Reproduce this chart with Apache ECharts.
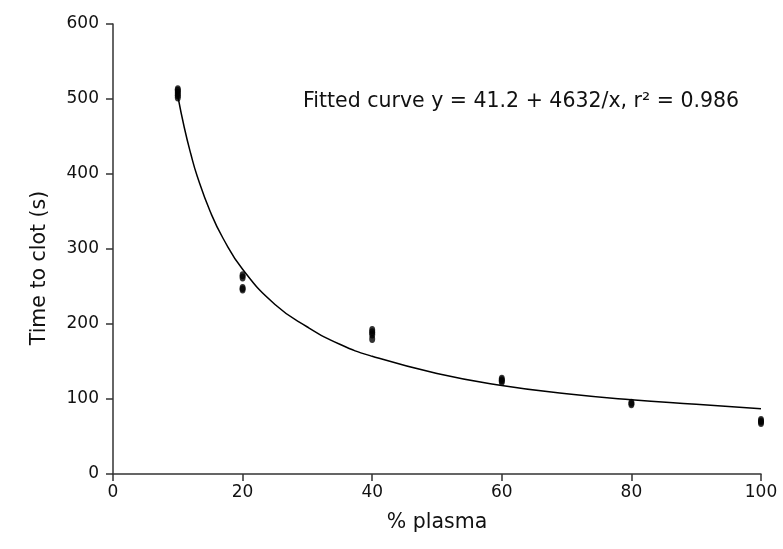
<!DOCTYPE html>
<html>
<head>
<meta charset="utf-8">
<script src="https://cdn.jsdelivr.net/npm/echarts@6/dist/echarts.min.js"></script>
<style>
  html, body { margin: 0; padding: 0; background: #fff; }
  #chart { width: 783px; height: 549px; }
</style>
</head>
<body>
<div id="chart"></div>
<script>
// measured points: [ % plasma, time to clot ]
var obs10 = [[10, 502], [10, 505], [10, 508], [10, 511], [10, 513]];
var obs20 = [[20, 265], [20, 262], [20, 248], [20, 246]];
var obs40 = [[40, 192], [40, 189], [40, 186], [40, 180]];
var obs60 = [[60, 127], [60, 125], [60, 123]];
var obs80 = [[80, 95], [80, 93]];
var obs100 = [[100, 72], [100, 70], [100, 68]];

// fitted curve
var curveX = [10, 11, 12, 13, 15, 17, 20, 25, 30, 35, 40, 50, 60, 70, 80, 90, 100];
var curveY = [504, 462, 427, 397, 350, 314, 273, 226, 196, 173, 157, 134, 118, 107, 99, 93, 87];

var xTicks = [0, 20, 40, 60, 80, 100];
var yTicks = [0, 100, 200, 300, 400, 500, 600];

var points = [].concat(obs10, obs20, obs40, obs60, obs80, obs100);
var curve = curveX.map(function (x, i) { return [x, curveY[i]]; });

var chart = echarts.init(document.getElementById('chart'));
var font = 'DejaVu Sans, sans-serif';

var option = {
    backgroundColor: '#fff',
    animation: false,
    title: {
        text: 'Fitted curve y = 41.2 + 4632/x, r² = 0.986',
        left: 298,
        top: 86,
        textStyle: {
            fontFamily: font,
            fontSize: 20.5,
            fontWeight: 'normal',
            color: '#111'
        }
    },
    graphic: [
        {
            type: 'text',
            rotation: Math.PI / 2,
            x: 40,
            y: 268,
            style: {
                text: 'Time to clot (s)',
                fontFamily: font,
                fontSize: 20.5,
                fill: '#111',
                align: 'center',
                verticalAlign: 'middle'
            }
        }
    ],
    grid: {
        left: 113,
        right: 22,
        top: 24,
        bottom: 75
    },
    xAxis: {
        type: 'value',
        min: 0,
        max: 100,
        interval: 20,
        name: '% plasma',
        nameLocation: 'middle',
        nameGap: 38,
        nameTextStyle: { fontFamily: font, fontSize: 20.5, color: '#111' },
        splitLine: { show: false },
        axisLine: { show: true, onZero: false, lineStyle: { color: '#333', width: 1.5 } },
        axisTick: { show: true, length: 7, lineStyle: { color: '#333', width: 1.5 } },
        axisLabel: {
            fontFamily: font,
            fontSize: 17,
            color: '#111',
            margin: 10,
            formatter: function (v) { return xTicks.indexOf(v) >= 0 ? v : ''; }
        }
    },
    yAxis: {
        type: 'value',
        min: 0,
        max: 600,
        interval: 100,
        splitLine: { show: false },
        axisLine: { show: true, lineStyle: { color: '#333', width: 1.5 } },
        axisTick: { show: true, length: 7, lineStyle: { color: '#333', width: 1.5 } },
        axisLabel: {
            fontFamily: font,
            fontSize: 17,
            color: '#111',
            margin: 14,
            formatter: function (v) { return yTicks.indexOf(v) >= 0 ? v : ''; }
        }
    },
    series: [
        {
            name: 'fit',
            type: 'line',
            data: curve,
            smooth: true,
            showSymbol: false,
            lineStyle: { color: '#000', width: 1.5 },
            z: 2
        },
        {
            name: 'data',
            type: 'scatter',
            data: points,
            symbol: 'circle',
            symbolSize: [6, 8],
            itemStyle: { color: '#000' },
            z: 3
        }
    ]
};
chart.setOption(option);
</script>
</body>
</html>
